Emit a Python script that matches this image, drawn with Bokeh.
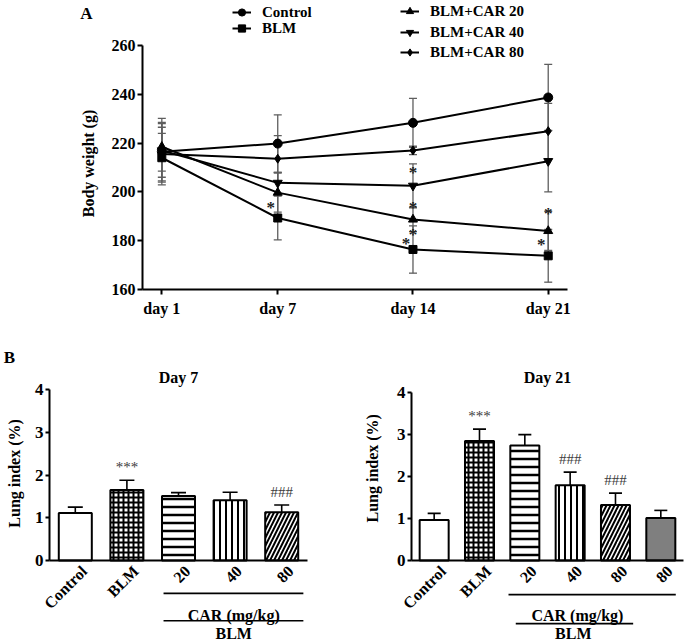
import numpy as np
from bokeh.plotting import figure
from bokeh.models import (Range1d, FixedTicker, Whisker, TeeHead, Legend, LegendItem, Label,
                          ColumnDataSource)
from bokeh.layouts import column, row
from bokeh.core.properties import value
from bokeh.embed import file_html
from bokeh.resources import INLINE

FONT = "Liberation Serif"

# ---------------- Panel A data ----------------
days = [1, 7, 14, 21]
day_labels = ["day 1", "day 7", "day 14", "day 21"]
weight_ticks = [160, 180, 200, 220, 240, 260]
series_names = ["Control", "BLM", "BLM+CAR 20", "BLM+CAR 40", "BLM+CAR 80"]

control_w = [216.5, 219.8, 228.3, 238.7]
control_sd = [13.6, 11.8, 10.0, 13.6]
blm_w = [214.0, 189.3, 176.4, 173.8]
blm_sd = [10.0, 9.0, 9.7, 10.8]
car20_w = [218.5, 199.7, 188.7, 184.0]
car20_sd = [10.0, 8.0, 5.0, 8.0]
car40_w = [217.0, 203.7, 202.5, 212.6]
car40_sd = [11.0, 4.3, 9.0, 12.6]
car80_w = [215.5, 213.6, 217.0, 224.9]
car80_sd = [11.0, 9.5, 1.7, 11.4]

# significance stars (A)
blm_star_days = [7, 14, 21]
blm_star_vals = [194.2, 179.4, 179.0]
bar_star_days = [14, 14, 14, 21]
bar_star_vals = [208.5, 194.0, 183.0, 191.4]

# ---------------- Panel B data ----------------
labels_d7 = ["Control", "BLM", "20", "40", "80"]
lung_d7 = [1.11, 1.65, 1.51, 1.41, 1.13]
lung_d7_sd = [0.14, 0.23, 0.08, 0.19, 0.17]
sig_d7 = ["", "***", "", "", "###"]

labels_d21 = ["Control", "BLM", "20", "40", "80", "80"]
lung_d21 = [0.96, 2.84, 2.73, 1.79, 1.32, 1.01]
lung_d21_sd = [0.16, 0.28, 0.26, 0.31, 0.28, 0.18]
sig_d21 = ["", "***", "", "###", "###", ""]
lung_ticks = [0, 1, 2, 3, 4]

# ---------------- styling helpers ----------------
def style_axis(ax, size="16px"):
    ax.axis_line_width = 2
    ax.axis_line_color = "black"
    ax.major_tick_line_width = 2
    ax.major_tick_line_color = "black"
    ax.major_tick_out = 5
    ax.major_tick_in = 0
    ax.minor_tick_out = 0
    ax.minor_tick_in = 0
    ax.major_label_text_font = FONT
    ax.major_label_text_font_style = "bold"
    ax.major_label_text_font_size = size
    ax.major_label_text_color = "black"


def clean(p):
    p.xgrid.visible = False
    p.ygrid.visible = False
    p.outline_line_color = None
    p.background_fill_color = "white"
    p.border_fill_color = "white"


def bold_label(p, x, y, text, size="16px", angle=0.0, align="center"):
    p.add_layout(Label(x=x, y=y, text=text, angle=angle, text_font=FONT,
                       text_font_style="bold", text_font_size=size, text_color="black",
                       text_align=align, text_baseline="middle"))


# ---------------- Panel A ----------------
A_W, A_H = 685, 334
A_X0, A_PXD = 142, 19.32      # screen x of day 0, px per day
A_Y0, A_PXU = 289, 2.44       # screen y of 160 g, px per g
pa = figure(width=A_W, height=A_H,
            x_range=Range1d(-A_X0 / A_PXD, (A_W - A_X0) / A_PXD),
            y_range=Range1d(160 - (A_H - A_Y0) / A_PXU, 160 + A_Y0 / A_PXU),
            output_backend="svg", toolbar_location=None,
            min_border_left=0, min_border_right=0, min_border_top=0, min_border_bottom=0)
clean(pa)
style_axis(pa.xaxis[0])
style_axis(pa.yaxis[0])
pa.xaxis.fixed_location = 160
pa.yaxis.fixed_location = 0
pa.xaxis.ticker = FixedTicker(ticks=days)
pa.xaxis.major_label_overrides = {d: l for d, l in zip(days, day_labels)}
pa.xaxis.bounds = (0, 22)
pa.xaxis.major_label_standoff = 5
pa.yaxis.ticker = FixedTicker(ticks=weight_ticks)
pa.yaxis.bounds = (160, 260)
pa.yaxis.major_label_standoff = 2

all_w = [control_w, blm_w, car20_w, car40_w, car80_w]
all_sd = [control_sd, blm_sd, car20_sd, car40_sd, car80_sd]
markers = ["circle", "square", "triangle", "inverted_triangle", "diamond"]
msizes = [9, 8, 9, 9, 9]
ERR = "#5e5e5e"

for w, sd in zip(all_w, all_sd):
    src = ColumnDataSource(dict(x=days, upper=np.array(w) + np.array(sd),
                                lower=np.array(w) - np.array(sd)))
    wk = Whisker(base="x", upper="upper", lower="lower", source=src,
                 line_color=ERR, line_width=1.3,
                 upper_head=TeeHead(size=8, line_color=ERR, line_width=1.3),
                 lower_head=TeeHead(size=8, line_color=ERR, line_width=1.3))
    pa.add_layout(wk)

line_rs = []
for name, w, mk, ms in zip(series_names, all_w, markers, msizes):
    src = ColumnDataSource(dict(x=days, y=w))
    lr = pa.line("x", "y", source=src, line_color="black", line_width=2)
    sr = pa.scatter("x", "y", source=src, marker=mk, size=ms, fill_color="black",
                    line_color="black")
    line_rs.append((name, lr, sr))

star_font = dict(text_font=value(FONT), text_font_size="17px", text_font_style="bold",
                 text_color="#222222", text_align="center", text_baseline="middle")
pa.text(x=blm_star_days, y=blm_star_vals, text=["*"] * len(blm_star_days),
        x_offset=-7, y_offset=1, **star_font)
pa.text(x=bar_star_days, y=bar_star_vals, text=["*"] * len(bar_star_days),
        x_offset=0, y_offset=1, **star_font)

# legend: one Legend per entry, (glyph left x, row centre y) in screen px
legend_slots = [(232, 12), (232, 28), (400, 11), (400, 32), (400, 52)]
ITEM_H = 18
for (name, lr, sr), (gx, cy) in zip(line_rs, legend_slots):
    lg = Legend(items=[LegendItem(label=name, renderers=[lr, sr])],
                location=(gx, A_H - cy - ITEM_H / 2),
                glyph_width=19, glyph_height=ITEM_H, label_height=ITEM_H, label_standoff=11,
                padding=0, margin=0, spacing=0, border_line_color=None,
                background_fill_alpha=0, label_text_font=FONT, label_text_font_style="bold",
                label_text_font_size="15px", label_text_color="black")
    pa.add_layout(lg)

bold_label(pa, (86 - A_X0) / A_PXD, 160 + (A_Y0 - 13) / A_PXU, "A", size="17px")
bold_label(pa, (88 - A_X0) / A_PXD, 160 + (A_Y0 - 163) / A_PXU, "Body weight (g)",
           angle=np.pi / 2)

# ---------------- Panel B ----------------
bar_patterns = [" ", "cross", "horizontal_line", "vertical_line", "right_diagonal_line", " "]
bar_scales = [8, 5, 8, 6, 8, 8]
bar_weights = [1, 2, 2.5, 2, 2.0, 1]
bar_fills = ["white", "white", "white", "white", "white", "#7f7f7f"]


def bar_panel(labels, vals, sds, sig, title, width, x0, ppc, ppu, brackets, cap,
              title_y, ylab_xy, height=308, y0=226):
    n = len(labels)
    p = figure(width=width, height=height,
               x_range=Range1d(-x0 / ppc, (width - x0) / ppc),
               y_range=Range1d(-(height - y0) / ppu, y0 / ppu),
               output_backend="svg", toolbar_location=None,
               min_border_left=0, min_border_right=0, min_border_top=0, min_border_bottom=0)
    clean(p)
    p.xaxis.visible = False
    style_axis(p.yaxis[0], size="17px")
    p.yaxis.fixed_location = 0
    p.yaxis.ticker = FixedTicker(ticks=lung_ticks)
    p.yaxis.bounds = (lung_ticks[0], lung_ticks[-1])
    p.yaxis.major_label_standoff = 2
    p.yaxis.major_tick_out = 4

    xs = np.arange(n) + 0.5
    src = ColumnDataSource(dict(
        x=xs, top=vals, upper=np.array(vals) + np.array(sds), sig=sig, lab=labels,
        pat=bar_patterns[:n], sc=bar_scales[:n], wt=bar_weights[:n], fc=bar_fills[:n]))
    wk = Whisker(base="x", upper="upper", lower="top", source=src, line_color="black",
                 line_width=1.6, lower_head=None,
                 upper_head=TeeHead(size=cap, line_color="black", line_width=1.6))
    p.add_layout(wk)
    p.vbar(x="x", top="top", width=0.64, source=src, fill_color="fc", line_color="black",
           line_width=2, hatch_pattern="pat", hatch_scale="sc", hatch_weight="wt",
           hatch_color="black")
    # category axis line
    p.segment(x0=[0], x1=[n], y0=[0], y1=[0], line_color="black", line_width=2)
    p.text(x="x", y="upper", text="sig", source=src, text_font=value(FONT),
           text_font_size="15px", text_color="#3c3c3c", text_align="center",
           text_baseline="middle", y_offset=-13)
    p.text(x="x", y=0, text="lab", source=src, text_font=value(FONT), text_font_size="16px",
           text_font_style="bold", text_color="black", text_align="right",
           text_baseline="middle", angle=np.pi / 4, x_offset=9, y_offset=8)
    (l1x0, l1x1, l1y), (l2x0, l2x1, l2y), (carx, cary), (blmx, blmy) = brackets
    p.segment(x0=[l1x0, l2x0], x1=[l1x1, l2x1], y0=[l1y, l2y], y1=[l1y, l2y],
              line_color="black", line_width=1.6)
    bold_label(p, carx, cary, "CAR (mg/kg)")
    bold_label(p, blmx, blmy, "BLM")
    bold_label(p, n / 2, title_y, title)
    bold_label(p, ylab_xy[0], ylab_xy[1], "Lung index (%)", angle=np.pi / 2)
    return p


b1 = bar_panel(labels_d7, lung_d7, lung_d7_sd, sig_d7, "Day 7", width=345, x0=49,
               ppc=51.6, ppu=42.7,
               brackets=((2.21, 4.92, -0.77), (2.21, 4.92, -1.41), (3.57, -1.29), (3.57, -1.71)),
               cap=15, title_y=4.29, ylab_xy=(-0.68, 2.04))
bold_label(b1, -0.775, 4.75, "B", size="17px")

b2 = bar_panel(labels_d21, lung_d21, lung_d21_sd, sig_d21, "Day 21", width=340, x0=66,
               ppc=45.33, ppu=42.1,
               brackets=((2.14, 5.83, -0.81), (2.30, 4.89, -1.50), (3.66, -1.31), (3.57, -1.74)),
               cap=13, title_y=4.35, ylab_xy=(-0.86, 2.19))

layout = column(pa, row(b1, b2))
open("out.html", "w").write(file_html(layout, INLINE))
